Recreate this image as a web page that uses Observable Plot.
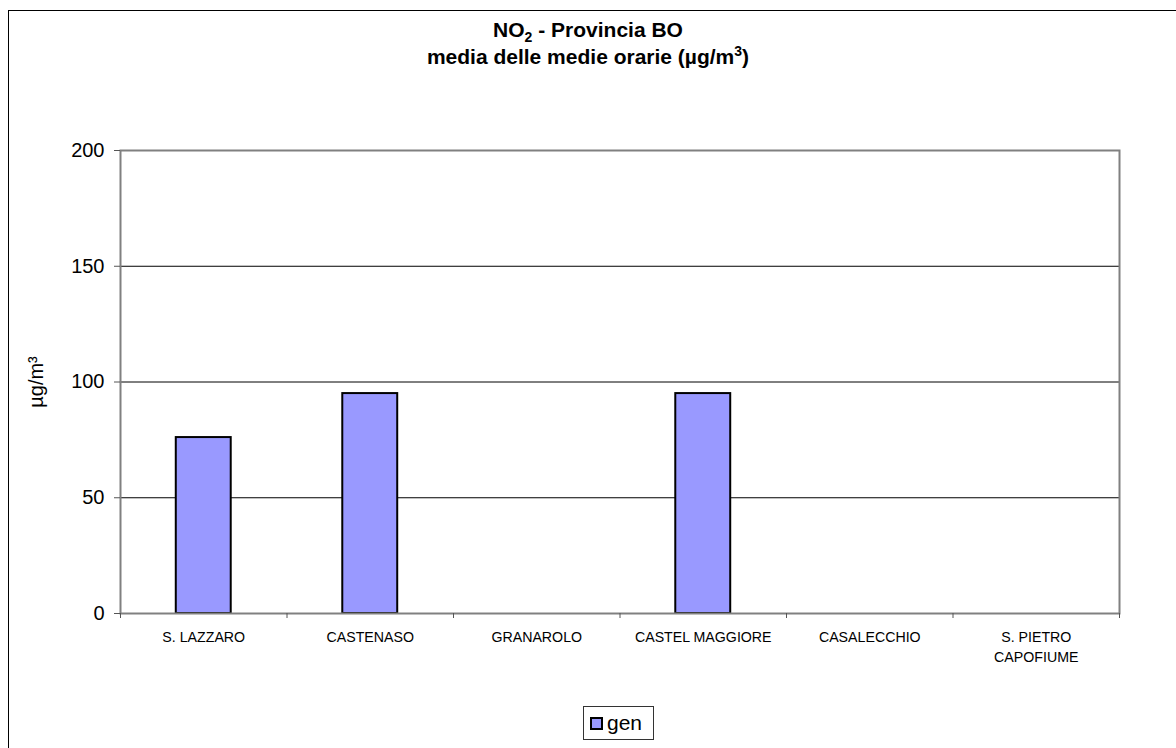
<!DOCTYPE html>
<html><head><meta charset="utf-8">
<script src="https://cdn.jsdelivr.net/npm/d3@7"></script>
<script src="https://cdn.jsdelivr.net/npm/@observablehq/plot@0.6"></script>
<style>
html,body{margin:0;padding:0;background:#fff;overflow:hidden;width:1176px;height:748px;font-family:"Liberation Sans",Arial,sans-serif;}
#frame{position:absolute;left:8px;top:10px;width:1220px;height:800px;border-left:1.5px solid #000;border-top:1.5px solid #000;box-sizing:border-box;}
#title{position:absolute;left:0;top:16px;width:1176px;text-align:center;font-weight:bold;font-size:21px;line-height:27px;color:#000;}
#title sub,#title sup{font-size:14px;line-height:0;}
#chart{position:absolute;left:0;top:0;}
#legend{position:absolute;left:583px;top:706px;width:71px;height:34px;border:1px solid #333;box-sizing:border-box;background:#fff;}
#legend .sw{position:absolute;left:6px;top:10px;width:13px;height:13px;background:#9999ff;border:2px solid #000;box-sizing:border-box;}
#legend .lb{position:absolute;left:23px;top:4px;font-size:21px;line-height:24px;color:#000;}
</style></head><body>
<div id="frame"></div>
<div id="chart"></div>
<div id="title"><div>NO<sub>2</sub> - Provincia BO</div><div>media delle medie orarie (µg/m<sup>3</sup>)</div></div>
<div id="legend"><div class="sw"></div><div class="lb" id="lb"></div></div>
<script>
const stations = ["S. LAZZARO", "CASTENASO", "GRANAROLO", "CASTEL MAGGIORE", "CASALECCHIO", "S. PIETRO\nCAPOFIUME"];
const genValues = [76, 95, null, 95, null, null];
const yTicks = [0, 50, 100, 150, 200];
const gridTicks = [50, 100, 150];
const seriesName = "gen";
const yLabel = "µg/m³";

const data = stations.map((s, i) => ({station: s, index: i, value: genValues[i]})).filter(d => d.value != null);
const half = 0.165;

const chart = Plot.plot({
  width: 1176,
  height: 700,
  marginLeft: 120,
  marginRight: 57,
  marginTop: 150,
  marginBottom: 87,
  style: {fontFamily: '"Liberation Sans", Arial, sans-serif', background: "transparent", color: "#000"},
  x: {domain: [0, stations.length], axis: null},
  y: {domain: [0, 200], axis: null},
  marks: [
    Plot.ruleY(gridTicks, {stroke: "#000", strokeWidth: 1}),
    Plot.rectY(data, {x1: d => d.index + 0.5 - half, x2: d => d.index + 0.5 + half, y: "value", fill: "#9999ff", stroke: "#000", strokeWidth: 2}),
    Plot.frame({stroke: "#808080", strokeWidth: 2}),
    Plot.axisX({ticks: d3.range(0, stations.length + 1), tickSize: 5, tickFormat: () => "", stroke: "#555"}),
    Plot.axisX({ticks: stations.map((_, i) => i + 0.5), tickSize: 0, tickPadding: 14, tickFormat: t => stations[Math.floor(t)], fontSize: 14.2, lineHeight: 1.42, fill: "#000"}),
    Plot.axisY({ticks: yTicks, tickSize: 6, tickPadding: 10, fontSize: 20, stroke: "#555", fill: "#000", label: yLabel, labelAnchor: "center", labelOffset: 92, labelArrow: "none"})
  ]
});
document.getElementById("chart").appendChild(chart);
document.getElementById("lb").textContent = seriesName;
</script>
</body></html>
